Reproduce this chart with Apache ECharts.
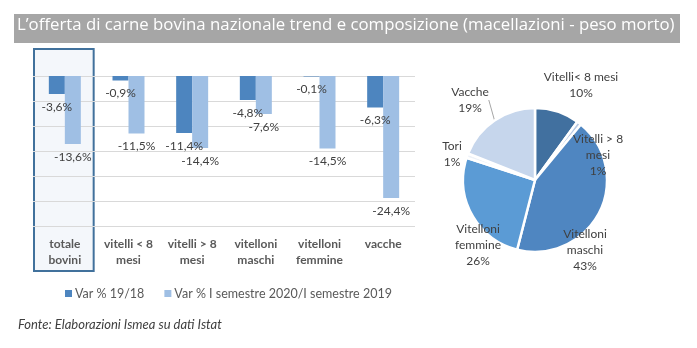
<!DOCTYPE html>
<html>
<head>
<meta charset="utf-8">
<script src="https://cdn.jsdelivr.net/npm/echarts@6/dist/echarts.min.js"></script>
<style>
  html, body { margin: 0; padding: 0; background: #fff; }
  #chart { width: 697px; height: 348px; }
</style>
</head>
<body>
<div id="chart"></div>
<script>
// Categories of the slaughter breakdown
const categories = ['totale\nbovini', 'vitelli < 8\nmesi', 'vitelli > 8\nmesi', 'vitelloni\nmaschi', 'vitelloni\nfemmine', 'vacche'];
// Percentage change 2019 vs 2018
const var1918 = [-3.6, -0.9, -11.4, -4.8, -0.1, -6.3];
// Percentage change H1 2020 vs H1 2019
const varSem = [-13.6, -11.5, -14.4, -7.6, -14.5, -24.4];
const seriesNames = ['Var % 19/18', 'Var % I semestre 2020/I semestre 2019'];

// Composition of slaughter (share %)
const pieNames = ['Vitelli< 8 mesi', 'Vitelli > 8\nmesi', 'Vitelloni\nmaschi', 'Vitelloni\nfemmine', 'Tori', 'Vacche'];
const pieValues = [10, 1, 43, 26, 1, 19];

// Value axis ticks
const yMin = -30, yMax = 0, yStep = 5;

const titleText = 'L\u2019offerta di carne bovina nazionale trend e composizione (macellazioni - peso morto)';
const sourceText = 'Fonte: Elaborazioni Ismea su dati Istat';

const FONT = 'Lato, "Liberation Sans", sans-serif';
const TITLE_FONT = '"Open Sans", Lato, sans-serif';
const pieColors = ['#41709f', '#b7c9e4', '#4f86c1', '#5b9bd5', '#eef2f8', '#c6d6ec'];
// Where each pie label sits relative to the pie centre
const pieLabelOffsets = [[46, -95], [63, -25], [50, 70], [-57, 65], [-83, -26], [-65, -80]];

const pctFmt = v => v.toFixed(1).replace('.', ',') + '%';

const chart = echarts.init(document.getElementById('chart'));
const pieCenter = [535, 180];

chart.setOption({
  animation: false,
  textStyle: { fontFamily: FONT },
  legend: {
    left: 60, top: 282,
    itemWidth: 7, itemHeight: 7, itemGap: 20,
    icon: 'rect',
    data: seriesNames,
    textStyle: { color: '#595959', fontSize: 12.5, fontFamily: FONT, padding: [0, 0, 0, -2] }
  },
  grid: { left: 33, right: 282, top: 76, bottom: 122, containLabel: false },
  xAxis: {
    type: 'category',
    data: categories,
    axisLine: { show: false },
    axisTick: { show: false },
    axisLabel: { color: '#595959', fontWeight: 'bold', fontSize: 12, lineHeight: 16, margin: 10, fontFamily: FONT, interval: 0 }
  },
  yAxis: {
    type: 'value',
    min: yMin, max: yMax, interval: yStep,
    axisLabel: { show: false },
    axisLine: { show: false },
    axisTick: { show: false },
    splitLine: { lineStyle: { color: '#d9d9d9' } }
  },
  series: [
    {
      name: seriesNames[0], type: 'bar', data: var1918,
      barWidth: 16, barGap: '0%',
      itemStyle: { color: '#4d85bf' },
      label: { show: true, position: 'bottom', distance: 7, color: '#404040', fontSize: 12, fontFamily: FONT,
               formatter: p => pctFmt(p.value) }
    },
    {
      name: seriesNames[1], type: 'bar', data: varSem,
      barWidth: 16,
      itemStyle: { color: '#9fbfe4' },
      label: { show: true, position: 'bottom', distance: 7, color: '#404040', fontSize: 12, fontFamily: FONT,
               formatter: p => pctFmt(p.value) }
    },
    {
      name: 'Composizione', type: 'pie',
      center: pieCenter, radius: 72,
      startAngle: 90, clockwise: true,
      legendHoverLink: false,
      itemStyle: { borderColor: '#fff', borderWidth: 2.5 },
      data: pieValues.map((v, i) => ({
        name: pieNames[i], value: v,
        itemStyle: { color: pieColors[i] },
        labelLine: { show: i === 5 }
      })),
      label: {
        show: true, position: 'outside', color: '#404040', fontSize: 12, lineHeight: 16,
        fontFamily: FONT, align: 'center',
        formatter: p => p.name + '\n' + Math.round(p.percent) + '%'
      },
      labelLine: { lineStyle: { color: '#a6a6a6', width: 1 }, length: 6, length2: 0 },
      labelLayout: p => {
        const o = pieLabelOffsets[p.dataIndex];
        return { x: pieCenter[0] + o[0], y: pieCenter[1] + o[1], align: 'center', verticalAlign: 'middle' };
      }
    }
  ]
});

// Frame around the first category, spanning bars and its axis label
const c0 = chart.convertToPixel({ xAxisIndex: 0 }, 0);
const c1 = chart.convertToPixel({ xAxisIndex: 0 }, 1);
const half = (c1 - c0) / 2;
chart.setOption({
  graphic: [
    {
      type: 'rect', z: -1,
      shape: { x: c0 - half + 1, y: 49, width: 2 * half - 4, height: 222 },
      style: { fill: '#f4f7fb', stroke: '#41719c', lineWidth: 2 }
    },
    {
      type: 'rect', z: 5,
      shape: { x: 14, y: 14, width: 666, height: 29 },
      style: { fill: '#a6a6a6' }
    },
    {
      type: 'text', z: 6, left: 17, top: 17,
      style: { text: titleText, fill: '#fff', font: '16.8px ' + TITLE_FONT }
    },
    {
      type: 'text', left: 18, top: 318,
      style: { text: sourceText, fill: '#404040', font: 'italic 13px ' + FONT }
    }
  ]
});
</script>
</body>
</html>
